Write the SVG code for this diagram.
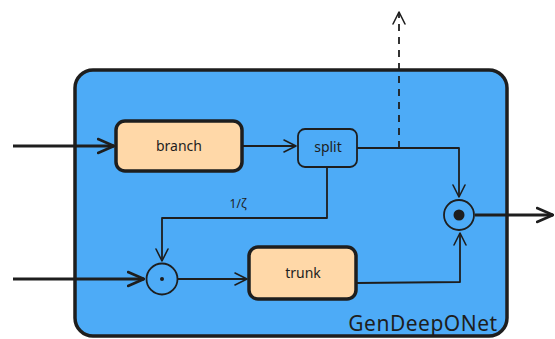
<svg xmlns="http://www.w3.org/2000/svg" width="555" height="339" viewBox="0 0 555 339">
  <defs>
    <marker id="open" viewBox="0 0 14 14" refX="13" refY="7" markerWidth="14" markerHeight="14" markerUnits="userSpaceOnUse" orient="auto">
      <path d="M1,1 L13,7 L1,13" fill="none" stroke="#1e1e1e" stroke-width="1.6" stroke-linecap="round" stroke-linejoin="round"/>
    </marker>
    <marker id="openBig" viewBox="0 0 18 18" refX="17" refY="9" markerWidth="18" markerHeight="18" markerUnits="userSpaceOnUse" orient="auto">
      <path d="M1,2 L17,9 L1,16" fill="none" stroke="#1e1e1e" stroke-width="2.6" stroke-linecap="round" stroke-linejoin="round"/>
    </marker>
  </defs>
  <style>
    .frame { fill: #4dabf7; stroke: #1e1e1e; stroke-width: 3.5; }
    .block { fill: #ffd8a8; stroke: #1e1e1e; stroke-width: 3.5; }
    .small { fill: #4dabf7; stroke: #1e1e1e; stroke-width: 1.8; }
    .op { fill: #4dabf7; stroke: #1e1e1e; stroke-width: 1.8; }
    .wire { fill: none; stroke: #1e1e1e; stroke-width: 1.8; stroke-linejoin: round; }
    .thick { fill: none; stroke: #1e1e1e; stroke-width: 3; }
    .lbl { font-family: "Noto Sans", "DejaVu Sans", sans-serif; fill: #1e1e1e; text-anchor: middle; }
  </style>

  <!-- container -->
  <g id="gendeeponet">
    <rect class="frame" x="75" y="70" width="432" height="266" rx="18"/>
    <text class="lbl" x="423" y="331" font-size="21" letter-spacing="0.5">GenDeepONet</text>
  </g>

  <!-- connectors -->
  <g id="connectors">
    <line class="thick" x1="13" y1="146" x2="114" y2="146" marker-end="url(#openBig)"/>
    <line class="thick" x1="13" y1="279" x2="144" y2="279" marker-end="url(#openBig)"/>
    <line class="wire" x1="243" y1="146" x2="296" y2="146" marker-end="url(#open)"/>
    <path class="wire" d="M357,148 L459,148 L459,197" marker-end="url(#open)"/>
    <line class="wire" x1="399" y1="148" x2="399" y2="12" stroke-dasharray="7,6" marker-end="url(#open)"/>
    <path class="wire" d="M327,168 L327,218 L162,218 L162,261" marker-end="url(#open)"/>
    <text class="lbl" x="238" y="208" font-size="12">1/ζ</text>
    <line class="wire" x1="178" y1="279" x2="247" y2="279" marker-end="url(#open)"/>
    <path class="wire" d="M357,283 L460,282 L460,233" marker-end="url(#open)"/>
    <line class="thick" x1="475" y1="215" x2="553" y2="215" marker-end="url(#openBig)"/>
  </g>

  <g id="branch">
    <rect class="block" x="116" y="121" width="126" height="50" rx="9"/>
    <text class="lbl" x="179" y="151" font-size="14">branch</text>
  </g>

  <g id="split">
    <rect class="small" x="298" y="129" width="59" height="38" rx="7"/>
    <text class="lbl" x="328" y="152" font-size="14">split</text>
  </g>

  <g id="trunk">
    <rect class="block" x="249" y="247" width="107" height="52" rx="9"/>
    <text class="lbl" x="303" y="278" font-size="14">trunk</text>
  </g>

  <g id="scale-op">
    <circle class="op" cx="162" cy="279" r="15.5"/>
    <circle cx="162" cy="279" r="2" fill="#1e1e1e"/>
  </g>

  <g id="product-op">
    <circle class="op" cx="459" cy="215" r="15"/>
    <circle cx="459" cy="215" r="5.5" fill="#1e1e1e"/>
  </g>
</svg>
